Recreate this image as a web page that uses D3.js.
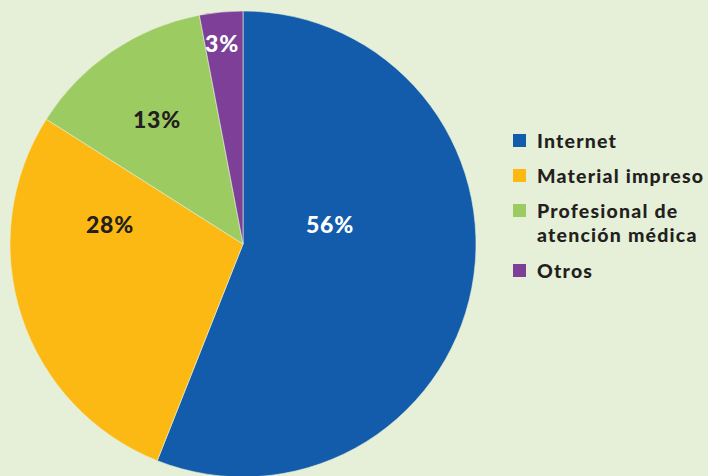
<!DOCTYPE html>
<html lang="es">
<head>
<meta charset="UTF-8">
<title>Fuentes de información</title>
<script src="https://d3js.org/d3.v7.min.js"></script>
<style>
    body { margin: 0; padding: 0; background: #e6f0d8; }
    svg { display: block; }
    text { font-family: Lato, "Open Sans", sans-serif; font-weight: 900; }
</style>
</head>
<body>
<div id="chart"></div>
<script>
// data
const categories = ['Internet', 'Material impreso', 'Profesional de atención médica', 'Otros'];
const legendLines = [['Internet'], ['Material impreso'], ['Profesional de', 'atención médica'], ['Otros']];
const values = [56, 28, 13, 3];
const colors = ['#135cab', '#fdb913', '#9ccb62', '#7e3f98'];
const labelColors = ['#ffffff', '#231f20', '#231f20', '#ffffff'];

const width = 708, height = 476;
const cx = 243, cy = 244, radius = 233;

const svg = d3.select('#chart').append('svg')
    .attr('width', width)
    .attr('height', height);

svg.append('rect').attr('width', width).attr('height', height).attr('fill', '#e6f0d8');

const pie = d3.pie().sort(null).value(d => d);
const arcs = pie(values);
const arc = d3.arc().innerRadius(0).outerRadius(radius);

const g = svg.append('g').attr('transform', `translate(${cx},${cy})`);

g.selectAll('path')
    .data(arcs)
    .join('path')
    .attr('d', arc)
    .attr('fill', (d, i) => colors[i])
    .attr('stroke', '#e6f0d8')
    .attr('stroke-width', 0.6);

// label placement (layout, offsets from pie centre)
const labelOffset = [[87, -19], [-133, -19], [-86, -124], [-21, -200]];
g.selectAll('text.pct')
    .data(arcs)
    .join('text')
    .attr('class', 'pct')
    .attr('x', (d, i) => labelOffset[i][0])
    .attr('y', (d, i) => labelOffset[i][1])
    .attr('text-anchor', 'middle')
    .attr('dy', '0.36em')
    .attr('font-size', 23)
    .attr('letter-spacing', 0.8)
    .attr('fill', (d, i) => labelColors[i])
    .text(d => d.data + '%');

// legend
const legendY = [141, 176, 211, 271];
const legend = svg.append('g').attr('transform', 'translate(513,0)');
const items = legend.selectAll('g')
    .data(categories)
    .join('g')
    .attr('transform', (d, i) => `translate(0,${legendY[i]})`);

items.append('rect')
    .attr('x', 0)
    .attr('y', -7)
    .attr('width', 13)
    .attr('height', 13)
    .attr('fill', (d, i) => colors[i]);

items.append('text')
    .attr('x', 24)
    .attr('y', 6.5)
    .attr('font-size', 19.5)
    .attr('letter-spacing', 1.2)
    .attr('fill', '#231f20')
    .selectAll('tspan')
    .data((d, i) => legendLines[i])
    .join('tspan')
    .attr('x', 24)
    .attr('dy', (d, j) => j === 0 ? 0 : 24)
    .text(d => d);
</script>
</body>
</html>
